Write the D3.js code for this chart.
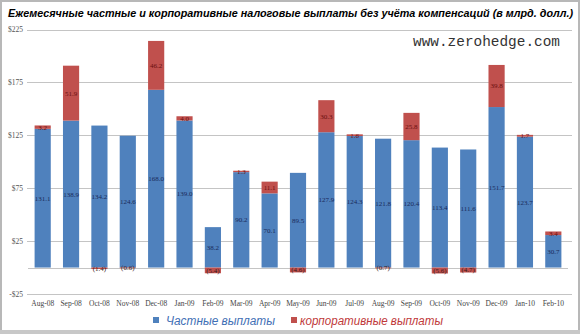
<!DOCTYPE html>
<html><head><meta charset="utf-8">
<script src="https://cdn.jsdelivr.net/npm/d3@7"></script>
<style>body{margin:0;background:#fff}svg{display:block}</style>
</head><body>
<script>
const categories = ["Aug-08","Sep-08","Oct-08","Nov-08","Dec-08","Jan-09","Feb-09","Mar-09","Apr-09","May-09","Jun-09","Jul-09","Aug-09","Sep-09","Oct-09","Nov-09","Dec-09","Jan-10","Feb-10"];
const privateVals = [131.1,138.9,134.2,124.6,168.0,139.0,38.2,90.2,70.1,89.5,127.9,124.3,121.8,120.4,113.4,111.6,151.7,123.7,30.7];
const corporateVals = [3.2,51.9,-1.4,-0.6,46.2,4.0,-5.4,1.3,11.1,-4.6,30.3,1.6,-0.7,25.8,-5.6,-4.7,39.8,1.7,3.4];
const yTicks = [-25,25,75,125,175,225];
const yTickLabels = ["-$25","$25","$75","$125","$175","$225"];
const seriesNames = ["Частные выплаты","корпоративные выплаты"];
const title = "Ежемесячные частные и корпоративные налоговые выплаты без учёта компенсаций (в млрд. долл.)";

const W = 580, H = 334;
const svg = d3.select("body").append("svg").attr("width", W).attr("height", H);
svg.append("rect").attr("x",0).attr("y",0).attr("width",W).attr("height",H).attr("fill","#fff");
svg.append("rect").attr("x",1).attr("y",1).attr("width",W-2).attr("height",H-2)
  .attr("fill","none").attr("stroke","#b8b8b8").attr("stroke-width",2);
svg.append("rect").attr("x",0).attr("y",330).attr("width",W).attr("height",4).attr("fill","#c8c8c8");

const blue = "#4F81BD", red = "#C0504D";
const x = d3.scaleBand().domain(categories).range([28.5, 567.5]).paddingInner(0.43).paddingOuter(0.215);
const y = d3.scaleLinear().domain([-25,225]).range([294, 29.5]);

// title
svg.append("text").attr("x", 8).attr("y", 17).text(title)
  .attr("font-family","Liberation Sans, Arial, sans-serif").attr("font-weight","bold")
  .attr("font-style","italic").attr("font-size",10).attr("fill","#000")
  .attr("textLength", 565).attr("lengthAdjust","spacingAndGlyphs");

// gridlines
svg.append("g").selectAll("line").data(yTicks).join("line")
  .attr("x1",27).attr("x2",572).attr("y1",d=>Math.round(y(d))+0.5).attr("y2",d=>Math.round(y(d))+0.5)
  .attr("stroke","#c4c4c4").attr("stroke-width",1);
svg.append("line").attr("x1",28).attr("x2",568).attr("y1",Math.round(y(0))+0.5).attr("y2",Math.round(y(0))+0.5)
  .attr("stroke","#c4c4c4");

// y axis
const yAxis = d3.axisLeft(y).tickValues(yTicks).tickFormat((d,i)=>yTickLabels[i]).tickSize(0).tickPadding(4);
const gy = svg.append("g").attr("transform","translate(27,0)").call(yAxis);
gy.select(".domain").remove();
gy.selectAll("text").attr("font-family","Liberation Serif, Times New Roman, serif").attr("font-size",7.5).attr("fill","#555");

// x axis
const xAxis = d3.axisBottom(x).tickSize(0).tickPadding(7);
const gx = svg.append("g").attr("transform",`translate(0,${y(-25)})`).call(xAxis);
gx.select(".domain").remove();
gx.selectAll("text").attr("font-family","Liberation Serif, Times New Roman, serif").attr("font-size",7.5).attr("fill","#444");

// bars
const data = categories.map((c,i)=>({c, p: privateVals[i], r: corporateVals[i]}));
const bars = svg.append("g");
bars.selectAll("rect.p").data(data).join("rect").attr("class","p")
  .attr("x",d=>x(d.c)).attr("width",x.bandwidth())
  .attr("y",d=>y(d.p)).attr("height",d=>y(0)-y(d.p)).attr("fill",blue);
bars.selectAll("rect.r").data(data).join("rect").attr("class","r")
  .attr("x",d=>x(d.c)).attr("width",x.bandwidth())
  .attr("y",d=> d.r>=0 ? y(d.p+d.r) : y(0))
  .attr("height",d=> Math.abs(y(0)-y(Math.abs(d.r))))
  .attr("fill",red);

// labels
const fmt = v => v < 0 ? `(${Math.abs(v).toFixed(1)})` : v.toFixed(1);
const labels = svg.append("g").attr("font-family","Liberation Serif, Times New Roman, serif").attr("font-size",7).attr("text-anchor","middle");
labels.selectAll("text.p").data(data).join("text").attr("class","p")
  .attr("x",d=>x(d.c)+x.bandwidth()/2).attr("y",d=>y(d.p/2)).attr("dy","0.35em")
  .attr("fill","#1a2a5a").text(d=>fmt(d.p));
labels.selectAll("text.r").data(data).join("text").attr("class","r")
  .attr("x",d=>x(d.c)+x.bandwidth()/2)
  .attr("y",d=> d.r>=0 ? y(d.p+d.r/2) : y(d.r/2))
  .attr("dy","0.35em")
  .attr("fill",d=> d.r>=0 ? "#6a0f0f" : "#3a1a1a").text(d=>fmt(d.r));

// watermark
svg.append("text").attr("x",413).attr("y",46).text("www.zerohedge.com")
  .attr("font-family","Liberation Mono, Courier New, monospace").attr("font-size",14.2).attr("fill","#333")
  .attr("textLength",147).attr("lengthAdjust","spacingAndGlyphs");

// legend
const legend = svg.append("g").attr("font-family","Liberation Sans, Arial, sans-serif").attr("font-style","italic").attr("font-size",12.5);
const legItems = [
  {name: seriesNames[0], color: blue, x: 153, tx: 166, tl: 109, tc:"#3f6fb5"},
  {name: seriesNames[1], color: red, x: 291, tx: 300, tl: 143, tc:"#c0393a"}];
legItems.forEach(it=>{
  legend.append("rect").attr("x",it.x).attr("y",317).attr("width",6).attr("height",6).attr("fill",it.color);
  legend.append("text").attr("x",it.tx).attr("y",324.5).text(it.name).attr("fill",it.tc)
    .attr("textLength",it.tl).attr("lengthAdjust","spacingAndGlyphs");
});
</script>
</body></html>
